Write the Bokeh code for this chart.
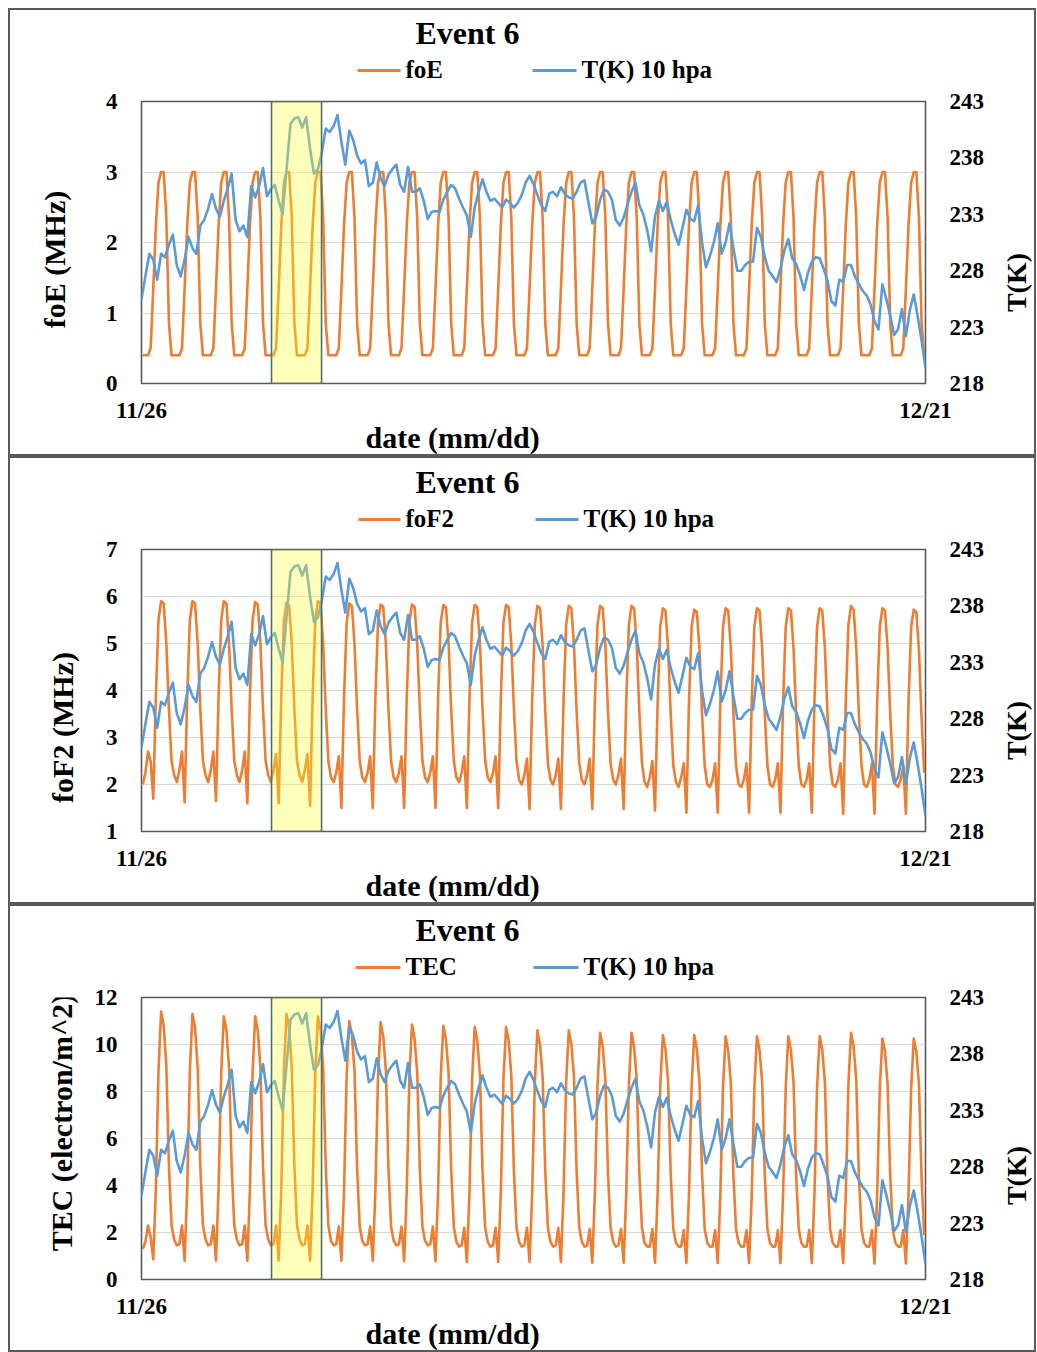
import math
from bokeh.plotting import figure
from bokeh.models import Range1d, LinearAxis, FixedTicker, BoxAnnotation, Title
from bokeh.layouts import column, row
from bokeh.core.properties import value
from bokeh.embed import file_html
from bokeh.resources import INLINE

ORANGE = "#ED7D31"
BLUE = "#5B9BD5"
FONT = "Liberation Serif"

# ---------------- data ----------------
x_tick_values = [0, 600]                 # hours since 11/26 00:00
x_tick_labels = ["11/26", "12/21"]
highlight_hours = [99.5, 137.8]          # shaded event window
T_ticks = [218, 223, 228, 233, 238, 243]

# 10 hPa temperature (K), every 3 hours from 11/26 00:00 to 12/21 00:00
T_10hpa = [
    225.5, 227.5, 229.5, 229.0, 227.2, 229.5, 229.2, 230.3, 231.2, 228.5,
    227.5, 229.0, 231.0, 230.0, 229.5, 232.0, 232.5, 233.5, 234.8, 233.5,
    232.8, 234.2, 235.3, 236.6, 232.5, 231.5, 232.0, 231.0, 235.5, 234.5,
    235.5, 237.1, 234.6, 235.2, 235.6, 234.2, 233.0, 237.0, 241.0, 241.5,
    241.6, 240.7, 241.6, 238.8, 236.6, 237.0, 238.5, 240.6, 240.3, 240.8,
    241.8, 239.4, 237.4, 240.4, 239.6, 238.2, 237.5, 237.8, 235.5, 235.8,
    237.6, 236.2, 235.5, 236.5, 237.0, 237.4, 235.6, 235.0, 237.2, 235.0,
    235.0, 235.3, 234.2, 232.6, 233.2, 233.3, 233.2, 234.3, 235.0, 235.6,
    235.3, 234.4, 233.6, 232.9, 231.0, 233.6, 235.0, 236.1, 235.0, 234.2,
    234.4, 234.0, 233.6, 234.3, 234.0, 233.6, 234.0, 234.7, 235.8, 236.4,
    235.7, 234.7, 233.8, 233.3, 234.8, 235.0, 234.6, 235.4, 234.8, 234.5,
    234.4, 235.0, 235.8, 236.0, 234.1, 232.2, 232.8, 234.3, 235.2, 235.0,
    234.3, 232.5, 232.0, 232.7, 233.9, 235.0, 235.8, 233.8, 233.0, 231.6,
    229.7, 232.8, 234.2, 233.3, 234.1, 232.5, 231.3, 230.3, 231.8, 233.4,
    232.6, 232.4, 233.8, 230.5, 228.3, 229.3, 230.5, 232.2, 229.5, 230.5,
    232.2, 230.0, 228.0, 228.0, 228.5, 228.8, 228.8, 231.8, 231.0, 229.2,
    228.0, 227.5, 227.0, 228.2, 229.8, 230.8, 229.1, 228.6, 227.6, 226.3,
    227.8, 228.8, 229.2, 229.1, 228.2, 227.1, 225.3, 224.9, 227.2, 227.0,
    228.5, 228.5, 227.5, 226.8, 226.2, 225.8, 225.0, 223.5, 222.8, 226.8,
    225.5, 224.0, 222.3, 222.8, 224.6, 222.2, 224.5, 225.9, 224.0, 221.8,
    219.4,
]

# ionospheric values, one row per day, at 01,03,...,23 h
foE_daily = [
    [0.4, 0.4, 0.4, 0.5, 1.35, 2.25, 2.85, 3.0, 3.0, 2.35, 0.85, 0.4],
    [0.4, 0.4, 0.4, 0.5, 1.35, 2.25, 2.85, 3.0, 3.0, 2.35, 0.85, 0.4],
    [0.4, 0.4, 0.4, 0.5, 1.35, 2.25, 2.85, 3.0, 3.0, 2.35, 0.85, 0.4],
    [0.4, 0.4, 0.4, 0.5, 1.35, 2.25, 2.85, 3.0, 3.0, 2.35, 0.85, 0.4],
    [0.4, 0.4, 0.4, 0.5, 1.35, 2.25, 2.85, 3.0, 3.0, 2.35, 0.85, 0.4],
    [0.4, 0.4, 0.4, 0.5, 1.35, 2.25, 2.85, 3.0, 3.0, 2.35, 0.85, 0.4],
    [0.4, 0.4, 0.4, 0.5, 1.35, 2.25, 2.85, 3.0, 3.0, 2.35, 0.85, 0.4],
    [0.4, 0.4, 0.4, 0.5, 1.35, 2.25, 2.85, 3.0, 3.0, 2.35, 0.85, 0.4],
    [0.4, 0.4, 0.4, 0.5, 1.35, 2.25, 2.85, 3.0, 3.0, 2.35, 0.85, 0.4],
    [0.4, 0.4, 0.4, 0.5, 1.35, 2.25, 2.85, 3.0, 3.0, 2.35, 0.85, 0.4],
    [0.4, 0.4, 0.4, 0.5, 1.35, 2.25, 2.85, 3.0, 3.0, 2.35, 0.85, 0.4],
    [0.4, 0.4, 0.4, 0.5, 1.35, 2.25, 2.85, 3.0, 3.0, 2.35, 0.85, 0.4],
    [0.4, 0.4, 0.4, 0.5, 1.35, 2.25, 2.85, 3.0, 3.0, 2.35, 0.85, 0.4],
    [0.4, 0.4, 0.4, 0.5, 1.35, 2.25, 2.85, 3.0, 3.0, 2.35, 0.85, 0.4],
    [0.4, 0.4, 0.4, 0.5, 1.35, 2.25, 2.85, 3.0, 3.0, 2.35, 0.85, 0.4],
    [0.4, 0.4, 0.4, 0.5, 1.35, 2.25, 2.85, 3.0, 3.0, 2.35, 0.85, 0.4],
    [0.4, 0.4, 0.4, 0.5, 1.35, 2.25, 2.85, 3.0, 3.0, 2.35, 0.85, 0.4],
    [0.4, 0.4, 0.4, 0.5, 1.35, 2.25, 2.85, 3.0, 3.0, 2.35, 0.85, 0.4],
    [0.4, 0.4, 0.4, 0.5, 1.35, 2.25, 2.85, 3.0, 3.0, 2.35, 0.85, 0.4],
    [0.4, 0.4, 0.4, 0.5, 1.35, 2.25, 2.85, 3.0, 3.0, 2.35, 0.85, 0.4],
    [0.4, 0.4, 0.4, 0.5, 1.35, 2.25, 2.85, 3.0, 3.0, 2.35, 0.85, 0.4],
    [0.4, 0.4, 0.4, 0.5, 1.35, 2.25, 2.85, 3.0, 3.0, 2.35, 0.85, 0.4],
    [0.4, 0.4, 0.4, 0.5, 1.35, 2.25, 2.85, 3.0, 3.0, 2.35, 0.85, 0.4],
    [0.4, 0.4, 0.4, 0.5, 1.35, 2.25, 2.85, 3.0, 3.0, 2.35, 0.85, 0.4],
    [0.4, 0.4, 0.4, 0.5, 1.35, 2.25, 2.85, 3.0, 3.0, 2.35, 0.85, 0.4],
]

foF2_daily = [
    [2.0, 2.25, 2.7, 2.5, 1.7, 3.9, 5.5, 5.9, 5.85, 5.0, 3.6, 2.5],
    [2.2, 2.05, 2.3, 2.7, 1.62, 3.9, 5.5, 5.9, 5.85, 5.0, 3.6, 2.5],
    [2.2, 2.05, 2.3, 2.7, 1.65, 3.9, 5.5, 5.9, 5.85, 5.0, 3.6, 2.5],
    [2.2, 2.05, 2.3, 2.7, 1.6, 3.9, 5.5, 5.88, 5.83, 5.0, 3.6, 2.5],
    [2.2, 2.05, 2.3, 2.65, 1.6, 3.9, 5.5, 5.87, 5.8, 5.0, 3.6, 2.5],
    [2.2, 2.05, 2.3, 2.65, 1.55, 3.9, 5.5, 5.9, 5.85, 5.0, 3.6, 2.5],
    [2.15, 2.05, 2.25, 2.6, 1.5, 3.85, 5.45, 5.85, 5.8, 5.0, 3.6, 2.5],
    [2.15, 2.05, 2.25, 2.6, 1.5, 3.85, 5.45, 5.83, 5.78, 5.0, 3.6, 2.5],
    [2.15, 2.05, 2.25, 2.6, 1.5, 3.85, 5.45, 5.83, 5.78, 5.0, 3.6, 2.5],
    [2.15, 2.05, 2.25, 2.6, 1.5, 3.85, 5.45, 5.82, 5.77, 5.0, 3.6, 2.5],
    [2.15, 2.05, 2.25, 2.6, 1.5, 3.85, 5.45, 5.82, 5.77, 5.0, 3.6, 2.5],
    [2.15, 2.05, 2.25, 2.6, 1.5, 3.85, 5.45, 5.82, 5.77, 5.0, 3.6, 2.5],
    [2.1, 2.0, 2.2, 2.55, 1.48, 3.8, 5.4, 5.8, 5.75, 4.95, 3.55, 2.45],
    [2.1, 2.0, 2.2, 2.55, 1.48, 3.8, 5.4, 5.8, 5.75, 4.95, 3.55, 2.45],
    [2.1, 2.0, 2.2, 2.55, 1.48, 3.8, 5.4, 5.8, 5.75, 4.95, 3.55, 2.45],
    [2.1, 2.0, 2.2, 2.55, 1.48, 3.8, 5.4, 5.8, 5.75, 4.95, 3.55, 2.45],
    [2.05, 1.95, 2.15, 2.5, 1.45, 3.75, 5.35, 5.75, 5.7, 4.9, 3.5, 2.4],
    [2.05, 1.95, 2.15, 2.45, 1.4, 3.75, 5.35, 5.72, 5.67, 4.9, 3.5, 2.4],
    [2.0, 1.95, 2.1, 2.45, 1.4, 3.75, 5.35, 5.75, 5.7, 4.9, 3.5, 2.4],
    [2.0, 1.95, 2.1, 2.45, 1.4, 3.75, 5.35, 5.75, 5.7, 4.9, 3.5, 2.4],
    [2.0, 1.95, 2.1, 2.45, 1.4, 3.75, 5.35, 5.75, 5.7, 4.9, 3.5, 2.4],
    [2.0, 1.95, 2.1, 2.45, 1.4, 3.75, 5.35, 5.75, 5.7, 4.9, 3.5, 2.4],
    [2.0, 1.95, 2.1, 2.45, 1.38, 3.8, 5.4, 5.8, 5.72, 4.9, 3.5, 2.4],
    [2.0, 1.95, 2.1, 2.45, 1.38, 3.75, 5.35, 5.75, 5.7, 4.9, 3.5, 2.4],
    [2.0, 1.95, 2.1, 2.4, 1.38, 3.75, 5.35, 5.72, 5.67, 4.85, 3.4, 2.25],
]

TEC_daily = [
    [1.3, 1.6, 2.3, 1.8, 0.85, 3.9, 8.9, 11.4, 10.8, 9.1, 4.8, 2.3],
    [1.7, 1.45, 1.5, 2.3, 0.8, 3.9, 8.9, 11.3, 10.7, 9.0, 4.8, 2.3],
    [1.7, 1.45, 1.5, 2.3, 0.8, 3.9, 8.8, 11.2, 10.6, 9.0, 4.8, 2.3],
    [1.7, 1.45, 1.5, 2.3, 0.8, 3.9, 8.8, 11.2, 10.6, 9.0, 4.8, 2.3],
    [1.7, 1.45, 1.5, 2.3, 0.8, 3.9, 8.9, 11.3, 10.7, 9.0, 4.8, 2.3],
    [1.7, 1.45, 1.5, 2.3, 0.8, 3.9, 8.8, 11.2, 10.6, 9.0, 4.8, 2.3],
    [1.65, 1.45, 1.5, 2.25, 0.8, 3.8, 8.7, 11.0, 10.4, 8.9, 4.7, 2.25],
    [1.65, 1.45, 1.5, 2.25, 0.8, 3.8, 8.6, 10.95, 10.35, 8.9, 4.7, 2.25],
    [1.65, 1.45, 1.5, 2.25, 0.78, 3.8, 8.6, 10.85, 10.25, 8.8, 4.7, 2.25],
    [1.65, 1.45, 1.5, 2.25, 0.78, 3.8, 8.6, 10.8, 10.2, 8.8, 4.7, 2.25],
    [1.6, 1.4, 1.45, 2.2, 0.75, 3.75, 8.5, 10.75, 10.15, 8.7, 4.6, 2.2],
    [1.6, 1.4, 1.45, 2.2, 0.75, 3.75, 8.5, 10.75, 10.15, 8.7, 4.6, 2.2],
    [1.6, 1.4, 1.45, 2.2, 0.75, 3.7, 8.4, 10.6, 10.0, 8.6, 4.6, 2.2],
    [1.6, 1.4, 1.45, 2.2, 0.75, 3.7, 8.4, 10.6, 10.0, 8.6, 4.6, 2.2],
    [1.6, 1.4, 1.45, 2.15, 0.72, 3.7, 8.3, 10.5, 9.9, 8.5, 4.5, 2.2],
    [1.6, 1.4, 1.45, 2.15, 0.72, 3.7, 8.3, 10.5, 9.9, 8.5, 4.5, 2.2],
    [1.55, 1.4, 1.4, 2.15, 0.72, 3.65, 8.2, 10.4, 9.8, 8.4, 4.5, 2.15],
    [1.55, 1.4, 1.4, 2.1, 0.7, 3.65, 8.2, 10.4, 9.8, 8.4, 4.5, 2.15],
    [1.55, 1.4, 1.4, 2.1, 0.7, 3.6, 8.15, 10.35, 9.75, 8.4, 4.4, 2.15],
    [1.55, 1.4, 1.4, 2.1, 0.7, 3.6, 8.15, 10.35, 9.75, 8.4, 4.4, 2.15],
    [1.55, 1.4, 1.4, 2.1, 0.7, 3.6, 8.15, 10.35, 9.75, 8.4, 4.4, 2.15],
    [1.55, 1.4, 1.4, 2.1, 0.7, 3.6, 8.15, 10.35, 9.75, 8.4, 4.4, 2.15],
    [1.55, 1.4, 1.4, 2.1, 0.7, 3.65, 8.3, 10.5, 9.9, 8.5, 4.4, 2.15],
    [1.55, 1.4, 1.4, 2.1, 0.68, 3.6, 8.1, 10.25, 9.7, 8.3, 4.4, 2.1],
    [1.55, 1.4, 1.4, 2.1, 0.68, 3.6, 8.1, 10.25, 9.7, 8.3, 4.3, 1.9],
]


def flatten(rows):
    return [v for r in rows for v in r]


orange_hours = [2 * i + 1 for i in range(25 * 12)]
T_hours = [3 * i for i in range(len(T_10hpa))]

# ---------------- layout constants (pixels) ----------------
INNER_W, INNER_H = 1024, 444         # drawing area inside each 2px panel border
HEAD_H = 77                          # title + legend strip
MID_H = INNER_H - HEAD_H
LEFT_W, RIGHT_W = 80, 44
MAIN_W = INNER_W - LEFT_W - RIGHT_W
FRAME_W, FRAME_H = 784, 282
M_BL, M_BT = 51, 14
M_BR = MAIN_W - M_BL - FRAME_W
M_BB = MID_H - M_BT - FRAME_H


def blank(w, h):
    f = figure(title=None, frame_width=w, frame_height=h, min_border=0,
               x_range=Range1d(0, w), y_range=Range1d(h, 0),
               x_axis_type=None, y_axis_type=None,
               output_backend="svg", toolbar_location=None,
               background_fill_color="white", border_fill_color="white",
               outline_line_color=None)
    return f


def put_text(f, x, y, s, size, align="left", baseline="alphabetic", angle=0.0):
    f.text(x=[x], y=[y], text=[s], angle=angle,
           text_font=value(FONT), text_font_style="bold", text_font_size=value(size),
           text_align=align, text_baseline=baseline, text_color="black")


def style_axis(ax, standoff):
    ax.axis_line_color = None
    ax.major_tick_line_color = None
    ax.minor_tick_line_color = None
    ax.major_tick_out = 0
    ax.major_tick_in = 0
    ax.major_label_text_font = FONT
    ax.major_label_text_font_style = "bold"
    ax.major_label_text_font_size = "23px"
    ax.major_label_text_color = "#000000"
    ax.major_label_standoff = standoff


def make_panel(cfg):
    # ---- header: title and legend ----
    head = blank(INNER_W, HEAD_H)
    put_text(head, cfg["title_x"], cfg["title_y"], "Event 6", "32px", align="center")
    lx0, lx1, ltx, bx0, bx1, btx = cfg["legend_x"]
    ly = cfg["legend_y"]
    head.line([lx0, lx1], [ly, ly], line_color=ORANGE, line_width=3)
    head.line([bx0, bx1], [ly, ly], line_color=BLUE, line_width=3)
    put_text(head, ltx, ly - 1, cfg["name"], "25px")
    put_text(head, btx, ly - 1, "T(K) 10 hpa", "25px")

    # ---- left / right axis titles ----
    left = blank(LEFT_W, MID_H)
    put_text(left, cfg["ylab_xy"][0], cfg["ylab_xy"][1], cfg["ylabel"], "30px",
             align="center", baseline="middle", angle=math.pi / 2)
    right = blank(RIGHT_W, MID_H)
    put_text(right, cfg["tk_xy"][0], cfg["tk_xy"][1], "T(K)", "28px",
             align="center", baseline="middle", angle=math.pi / 2)

    # ---- main chart ----
    p = figure(title=None, frame_width=FRAME_W, frame_height=FRAME_H,
               min_border_left=M_BL, min_border_right=M_BR,
               min_border_top=M_BT, min_border_bottom=M_BB,
               x_range=Range1d(0, 600), y_range=Range1d(*cfg["yrange"]),
               output_backend="svg", toolbar_location=None,
               background_fill_color="white", border_fill_color="white")
    p.outline_line_color = "#595959"
    p.outline_line_width = 1.6

    yt = FixedTicker(ticks=cfg["yticks"])
    p.yaxis[0].ticker = yt
    p.ygrid[0].ticker = yt
    style_axis(p.yaxis[0], 24)
    p.xaxis[0].ticker = FixedTicker(ticks=x_tick_values)
    p.xaxis[0].major_label_overrides = {v: s for v, s in zip(x_tick_values, x_tick_labels)}
    style_axis(p.xaxis[0], 14)
    p.xgrid.grid_line_color = None
    p.ygrid.grid_line_color = "#d9d9d9"
    p.ygrid.grid_line_width = 1

    p.extra_y_ranges = {"T": Range1d(218, 243)}
    rax = LinearAxis(y_range_name="T", ticker=FixedTicker(ticks=T_ticks))
    style_axis(rax, 24)
    p.add_layout(rax, "right")

    p.line(orange_hours, flatten(cfg["values"]), line_color=ORANGE, line_width=2.6,
           line_join="round")
    p.line(T_hours, T_10hpa, y_range_name="T", line_color=BLUE, line_width=2.6,
           line_join="round")

    p.add_layout(BoxAnnotation(left=highlight_hours[0], right=highlight_hours[1],
                               fill_color="#FFFF33", fill_alpha=0.33,
                               line_color="#4F6F6F", line_width=1.6, line_alpha=1))

    p.add_layout(Title(text="date (mm/dd)", align="left", offset=224, standoff=-14,
                       text_font=FONT, text_font_style="bold", text_font_size="30px",
                       text_color="black"), "below")

    inner = column(head, row(left, p, right, spacing=0), spacing=0)
    return column(inner, styles={"border": "2px solid #5a5a5a"})


panels = [
    dict(name="foE", ylabel="foE (MHz)", values=foE_daily, yrange=(0, 4),
         yticks=[0, 1, 2, 3, 4], title_x=457, title_y=22, legend_y=60,
         legend_x=(347, 390, 395, 522, 566, 571), ylab_xy=(44, 158), tk_xy=(26, 181)),
    dict(name="foF2", ylabel="foF2 (MHz)", values=foF2_daily, yrange=(1, 7),
         yticks=[1, 2, 3, 4, 5, 6, 7], title_x=457, title_y=23, legend_y=61,
         legend_x=(348, 390, 395, 525, 568, 573), ylab_xy=(52, 178), tk_xy=(26, 181)),
    dict(name="TEC", ylabel="TEC (electron/m^2)", values=TEC_daily, yrange=(0, 12),
         yticks=[0, 2, 4, 6, 8, 10, 12], title_x=457, title_y=23, legend_y=61,
         legend_x=(345, 390, 395, 523, 568, 573), ylab_xy=(51, 125), tk_xy=(26, 178)),
]

layout = column(*[make_panel(c) for c in panels], spacing=0,
                styles={"margin-left": "8px", "margin-top": "8px"})
open("out.html", "w").write(file_html(layout, INLINE))
